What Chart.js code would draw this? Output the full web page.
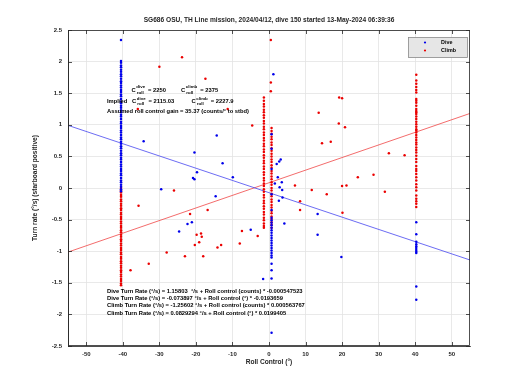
<!DOCTYPE html>
<html><head><meta charset="utf-8">
<script src="https://cdn.jsdelivr.net/npm/chart.js@4.4.1/dist/chart.umd.min.js"></script>
<style>html,body{margin:0;padding:0;background:#fff}#wrap{width:520px;height:390px}</style>
</head><body><div id="wrap"><canvas id="c" width="520" height="390"></canvas></div>
<script>
const titleText = "SG686 OSU, TH Line mission, 2024/04/12, dive 150 started 13-May-2024 06:39:36";
const xTicks = [-50,-40,-30,-20,-10,0,10,20,30,40,50];
const yTicks = [-2.5,-2,-1.5,-1,-0.5,0,0.5,1,1.5,2,2.5];
const xRange = [-55,55];
const yRange = [-2.5,2.5];
const seriesNames = ["Dive","Climb"];
const colX = [-40.5, -1.4, 0.7, 40.3, 0.7];

const diveScatterX = [-34.3,-14.3,-20.4,-12.7,-19.7,-20.8,-20.4,-9.9,-29.5,-14.6,-22.3,-21.1,-24.6,-5.0,13.3,13.3,19.8,4.2,2.8,3.2,2.1,2.4,3.5,1.6,2.9,3.6,3.7,2.7,1.2,-1.6];
const diveScatterY = [0.74,0.83,0.56,0.39,0.25,0.16,0.14,0.17,-0.02,-0.13,-0.57,-0.54,-0.69,-0.66,-0.41,-0.74,-1.09,-0.56,0.42,0.45,0.38,0.17,0.09,0.07,0.01,-0.03,-0.15,-0.20,1.80,-1.44];
const diveColLeftY = [2.34,2.01,1.98,1.94,1.91,1.87,1.84,1.80,1.77,1.73,1.69,1.66,1.62,1.59,1.55,1.52,1.48,1.45,1.41,1.37,1.34,1.30,1.27,1.23,1.20,1.16,1.13,1.09,1.05,1.02,0.98,0.95,0.91,0.88,0.84,0.80,0.77,0.73,0.70,0.66,0.63,0.59,0.55,0.52,0.48,0.45,0.41,0.37,0.34,0.30,0.27,0.23,0.20,0.16,0.12,0.09,0.05,0.02,-0.02,-0.05];
const diveColMidY = [0.85,0.62,0.30,-0.10,-0.35,-0.47,-0.51,-0.55,-0.59,-0.63,-0.67,-0.71,-0.75,-0.79,-0.83,-0.87,-0.91,-0.95,-0.99,-1.03,-1.07,-1.10,-1.20,-1.30,-1.43,-2.29];
const diveColRightY = [-0.54,-0.73,-0.85,-0.89,-0.92,-0.95,-0.98,-1.01,-1.03,-1.56,-1.77];

const climbScatterX = [-30.0,-23.8,-17.4,-4.6,-11.3,-35.9,-26.0,-35.7,-21.6,-16.8,-19.8,-18.6,-18.4,-19.1,-20.3,-28.0,-23.0,-18.0,-14.1,-13.1,-8.0,-7.4,-3.1,-32.9,-37.9,19.2,20.0,13.6,19.1,20.8,14.5,16.9,32.8,37.1,24.3,28.6,7.1,20.0,21.2,11.7,15.8,31.7,8.5,20.1,8.5,0.5,0.5,0.5];
const climbScatterY = [1.92,2.07,1.73,0.99,1.25,1.25,-0.04,-0.28,-0.41,-0.35,-0.74,-0.72,-0.77,-0.86,-0.90,-1.02,-1.08,-1.08,-0.94,-0.90,-0.88,-0.68,-0.76,-1.20,-1.30,1.43,1.42,1.19,1.02,0.96,0.71,0.73,0.55,0.52,0.17,0.21,0.04,0.03,0.04,-0.03,-0.10,-0.06,-0.35,-0.39,-0.21,2.34,1.67,1.53];
const climbColLeftY = [0.00,-0.04,-0.07,-0.11,-0.14,-0.18,-0.21,-0.25,-0.28,-0.32,-0.35,-0.39,-0.42,-0.46,-0.49,-0.53,-0.56,-0.60,-0.63,-0.67,-0.70,-0.74,-0.77,-0.81,-0.84,-0.88,-0.91,-0.95,-0.98,-1.02,-1.05,-1.09,-1.12,-1.16,-1.19,-1.23,-1.26,-1.30,-1.33,-1.37,-1.40,-1.44,-1.47,-1.51,-1.54];
const climbColMidAY = [1.43,1.38,1.33,1.29,1.24,1.20,1.15,1.11,1.06,1.02,0.97,0.93,0.88,0.84,0.79,0.75,0.70,0.66,0.61,0.57,0.52,0.48,0.43,0.39,0.34,0.30,0.25,0.21,0.16,0.12,0.07,0.03,-0.02,-0.06,-0.11,-0.15,-0.20,-0.24,-0.29,-0.33,-0.38,-0.42,-0.47,-0.51,-0.56,-0.60,-0.63];
const climbColMidBY = [0.95,0.90,0.86,0.81,0.77,0.72,0.68,0.63,0.59,0.54,0.50,0.45,0.41,0.36,0.32,0.27,0.23,0.18,0.14,0.09,0.05,0.00,-0.04,-0.09,-0.13,-0.18,-0.22,-0.27,-0.31,-0.36,-0.40,-0.45,-0.49,-0.54,-0.58,-0.63];
const climbColRightY = [1.79,1.70,1.65,1.60,1.55,1.51,1.41,1.38,1.35,1.30,1.25,1.22,1.20,1.17,1.13,1.09,1.05,1.01,0.97,0.93,0.91,0.88,0.84,0.80,0.76,0.72,0.69,0.64,0.60,0.56,0.51,0.46,0.41,0.35,0.30,0.27,0.22,0.17,0.12,0.06,0.01,-0.04,-0.12,-0.17,-0.21,-0.25,-0.30];

const fitX = [-55,55];
const diveFitY = [0.991,-1.139];
const climbFitY = [-1.014,1.180];

const topNotes = ["2250","2375","2115.03","2227.9","Assumed roll control gain = 35.37 (counts/° to stbd)"];
const fitNotes = [
 "Dive Turn Rate (°/s) = 1.15803  °/s + Roll control (counts) * -0.000547523",
 "Dive Turn Rate (°/s) = -0.073897 °/s + Roll control (°) * -0.0193659",
 "Climb Turn Rate (°/s) = -1.25602 °/s + Roll control (counts) * 0.000563767",
 "Climb Turn Rate (°/s) = 0.0829294 °/s + Roll control (°) * 0.0199405"];

const BLUE='rgb(0,0,235)', RED='rgb(235,0,0)';
function pts(xs,ys){return ys.map((y,i)=>({x:xs[i],y}));}
function col(x,ys){return ys.map(y=>({x,y}));}
const diveData = [].concat(col(colX[0],diveColLeftY), col(colX[4],diveColMidY), col(colX[3],diveColRightY), pts(diveScatterX,diveScatterY));
const climbData = [].concat(col(colX[0],climbColLeftY), col(colX[1],climbColMidAY), col(colX[2],climbColMidBY), col(colX[3],climbColRightY), pts(climbScatterX,climbScatterY));

const FONT='"Liberation Sans", Arial, sans-serif';
const deco = {
 id:'deco',
 afterDraw(chart){
  const ctx=chart.ctx, a=chart.chartArea, xs=chart.scales.x, ys=chart.scales.y;
  ctx.save();
  ctx.strokeStyle='#262626'; ctx.lineWidth=0.8;
  ctx.strokeRect(a.left+0.5,a.top+0.5,a.right-a.left-1,a.bottom-a.top-1);
  ctx.beginPath();
  xTicks.forEach(v=>{const p=Math.round(xs.getPixelForValue(v))+0.5; ctx.moveTo(p,a.bottom); ctx.lineTo(p,a.bottom-4); ctx.moveTo(p,a.top); ctx.lineTo(p,a.top+4);});
  yTicks.forEach(v=>{const p=Math.round(ys.getPixelForValue(v))+0.5; ctx.moveTo(a.left,p); ctx.lineTo(a.left+4,p); ctx.moveTo(a.right,p); ctx.lineTo(a.right-4,p);});
  ctx.stroke();
  ctx.fillStyle='#262626';
  ctx.font='bold 6.6px '+FONT; ctx.textAlign='center'; ctx.textBaseline='middle';
  ctx.fillText(titleText,(a.left+a.right)/2,20);
  ctx.font='bold 6.6px '+FONT;
  ctx.fillText("Roll Control (°)",(a.left+a.right)/2,362);
  ctx.save(); ctx.translate(35,(a.top+a.bottom)/2); ctx.rotate(-Math.PI/2);
  ctx.fillText("Turn rate (°/s) (starboard positive)",0,0); ctx.restore();
  ctx.fillStyle='#000'; ctx.textAlign='left';
  function cterm(x,y,sup,val){
    ctx.font='bold 5.8px '+FONT; ctx.fillText("C",x,y);
    const cw=ctx.measureText("C").width+0.6;
    ctx.font='bold 4.4px '+FONT; ctx.fillText(sup,x+cw,y-3); ctx.fillText("roll",x+cw+0.5,y+2.6);
    const sw=Math.max(ctx.measureText(sup).width,ctx.measureText("roll").width+0.5);
    ctx.font='bold 5.8px '+FONT; ctx.fillText("= "+val,x+cw+sw+3,y);
  }
  cterm(131.5,90,"dive",topNotes[0]);
  cterm(181,90,"climb",topNotes[1]);
  ctx.font='bold 5.8px '+FONT; ctx.fillText("Implied",107,101.5);
  cterm(132,101.5,"dive",topNotes[2]);
  cterm(191.5,101.5,"climb",topNotes[3]);
  ctx.font='bold 5.8px '+FONT; ctx.fillText(topNotes[4],107,111.5);
  fitNotes.forEach((t,i)=>ctx.fillText(t,107,291+i*7.3));
  ctx.fillStyle='#e6e6e6'; ctx.fillRect(408.5,37.5,59,20);
  ctx.strokeStyle='#8a8a8a'; ctx.lineWidth=0.8; ctx.strokeRect(408.5,37.5,59,20);
  ctx.fillStyle=BLUE; ctx.beginPath(); ctx.arc(425,42.5,1.1,0,7); ctx.fill();
  ctx.fillStyle=RED; ctx.beginPath(); ctx.arc(425,50.5,1.1,0,7); ctx.fill();
  ctx.fillStyle='#000'; ctx.font='bold 5.4px '+FONT;
  ctx.fillText(seriesNames[0],441,42.5); ctx.fillText(seriesNames[1],441,50.5);
  ctx.restore();
 }
};

new Chart(document.getElementById('c'),{
 type:'scatter',
 data:{datasets:[
  {label:seriesNames[0],data:diveData,backgroundColor:BLUE,borderWidth:0,pointRadius:1.25},
  {label:seriesNames[1],data:climbData,backgroundColor:RED,borderWidth:0,pointRadius:1.25},
  {type:'line',label:'dfit',data:pts(fitX,diveFitY),borderColor:'rgb(70,70,240)',borderWidth:0.8,pointRadius:0,fill:false},
  {type:'line',label:'cfit',data:pts(fitX,climbFitY),borderColor:'rgb(240,70,70)',borderWidth:0.8,pointRadius:0,fill:false}
 ]},
 options:{
  responsive:false,animation:false,
  layout:{padding:{top:30,right:50,left:0,bottom:0}},
  plugins:{legend:{display:false},tooltip:{enabled:false},title:{display:false}},
  scales:{
   x:{type:'linear',min:xRange[0],max:xRange[1],
      afterBuildTicks:s=>{s.ticks=xTicks.map(v=>({value:v}));},
      afterFit:s=>{s.height=44;},
      grid:{color:'#e3e3e3',lineWidth:0.8,drawTicks:false},
      border:{color:'#262626',width:0.8},
      ticks:{font:{family:FONT,size:6,weight:'bold'},color:'#262626',padding:5,maxRotation:0,autoSkip:false,callback:v=>String(v)}},
   y:{type:'linear',min:yRange[0],max:yRange[1],
      afterBuildTicks:s=>{s.ticks=yTicks.map(v=>({value:v}));},
      afterFit:s=>{s.width=68;},
      grid:{color:'#e3e3e3',lineWidth:0.8,drawTicks:false},
      border:{color:'#262626',width:0.8},
      ticks:{font:{family:FONT,size:6,weight:'bold'},color:'#262626',padding:6,autoSkip:false,callback:v=>String(v)}}
  }
 },
 plugins:[deco]
});
</script></body></html>
